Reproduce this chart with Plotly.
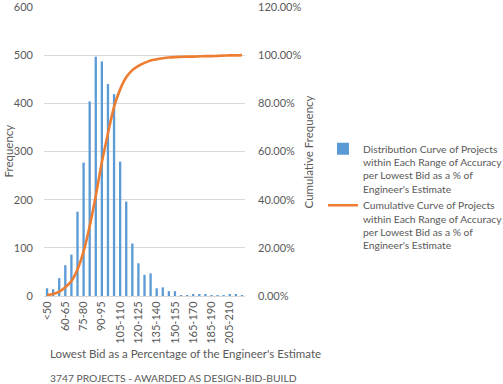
import plotly.graph_objects as go

categories = ["<50", "50-55", "55-60", "60-65", "65-70", "70-75", "75-80", "80-85",
              "85-90", "90-95", "95-100", "100-105", "105-110", "110-115", "115-120",
              "120-125", "125-130", "130-135", "135-140", "140-145", "145-150",
              "150-155", "155-160", "160-165", "165-170", "170-175", "180-185",
              "185-190", "190-195", "200-205", "205-210", "210-215", "215-220"]

frequency = [16, 14, 37, 64, 86, 175, 277, 404, 497, 487, 440, 419, 279, 196, 109,
             68, 44, 47, 16, 18, 10, 10, 2, 2, 3, 3, 3, 1, 1, 2, 3, 3, 2]

cumulative_pct = [0.4, 0.8, 1.8, 3.6, 6.2, 11.0, 18.5, 29.0, 41.5, 55.5, 67.5, 78.5,
                  85.8, 90.8, 93.8, 95.6, 96.8, 97.8, 98.3, 98.7, 99.0, 99.2, 99.3,
                  99.4, 99.4, 99.5, 99.6, 99.6, 99.7, 99.8, 99.9, 99.9, 100.0]

shown_ticks = ["<50", "60-65", "75-80", "90-95", "105-110", "120-125", "135-140",
               "150-155", "165-170", "185-190", "205-210"]

series_name = ("Distribution Curve of Projects<br>within Each Range of Accuracy<br>"
               "per Lowest Bid as a % of<br>Engineer's Estimate")
line_name = ("Cumulative Curve of Projects<br>within Each Range of Accuracy<br>"
             "per Lowest Bid as a % of<br>Engineer's Estimate")

FONT = "Lato, 'Open Sans', sans-serif"
GREY = "#595959"

fig = go.Figure()
fig.add_trace(go.Bar(x=categories, y=frequency, name=series_name,
                     marker=dict(color="#5B9BD5", line=dict(width=0))))
fig.add_trace(go.Scatter(x=categories, y=[v / 100 for v in cumulative_pct],
                         name=line_name, mode="lines", yaxis="y2",
                         line=dict(color="#ED7D31", width=2.6, shape="spline",
                                   smoothing=0.8)))

fig.update_layout(
    width=503, height=384,
    margin=dict(l=44, r=258, t=7, b=88, autoexpand=False),
    paper_bgcolor="white", plot_bgcolor="white",
    font=dict(family=FONT, size=11, color=GREY),
    bargap=0.62,
    showlegend=True,
    legend=dict(x=1.388, y=0.341, xanchor="left", yanchor="middle",
                valign="top", font=dict(size=10.3, color=GREY),
                tracegroupgap=6, itemwidth=30,
                bgcolor="rgba(0,0,0,0)"),
    xaxis=dict(type="category", range=[-0.5, len(categories) - 0.5],
               tickmode="array", tickvals=shown_ticks, ticktext=shown_ticks,
               tickangle=-90, showgrid=False, showline=True, automargin=False,
               linecolor="#d9d9d9", linewidth=1, ticks="",
               tickfont=dict(size=11, color=GREY)),
    yaxis=dict(range=[0, 600], dtick=100, showgrid=True, gridcolor="#d9d9d9",
               gridwidth=1, zeroline=False, showline=False, ticks="",
               automargin=False, ticklabeloverflow="allow",
               ticklabelstandoff=10, tickfont=dict(size=11, color=GREY)),
    yaxis2=dict(range=[0, 1.2], dtick=0.2, tickformat=".2%", overlaying="y",
                side="right", showgrid=False, zeroline=False, showline=False,
                ticks="", ticklabelstandoff=12, automargin=False,
                ticklabeloverflow="allow",
                tickfont=dict(size=11, color=GREY)),
    annotations=[
        dict(text="Frequency", xref="paper", yref="paper", x=-0.179, y=0.5,
             textangle=-90, showarrow=False, xanchor="center", yanchor="middle",
             font=dict(size=11.5, color=GREY)),
        dict(text="Cumulative Frequency", xref="paper", yref="paper", x=1.318,
             y=0.5, textangle=-90, showarrow=False, xanchor="center",
             yanchor="middle", font=dict(size=11.5, color=GREY)),
        dict(text="Lowest Bid as a Percentage of the Engineer's Estimate",
             xref="paper", yref="paper", x=0.02, y=-0.199, showarrow=False,
             xanchor="left", yanchor="middle", font=dict(size=11.5, color=GREY)),
        dict(text="3747 PROJECTS - AWARDED AS DESIGN-BID-BUILD",
             xref="paper", yref="paper", x=0.02, y=-0.284, showarrow=False,
             xanchor="left", yanchor="middle", font=dict(size=10.3, color=GREY)),
    ],
)

fig.write_html("out.html",
               config={"displayModeBar": False},
               post_script="document.body.style.margin='0';"
                           "document.body.style.padding='0';")
